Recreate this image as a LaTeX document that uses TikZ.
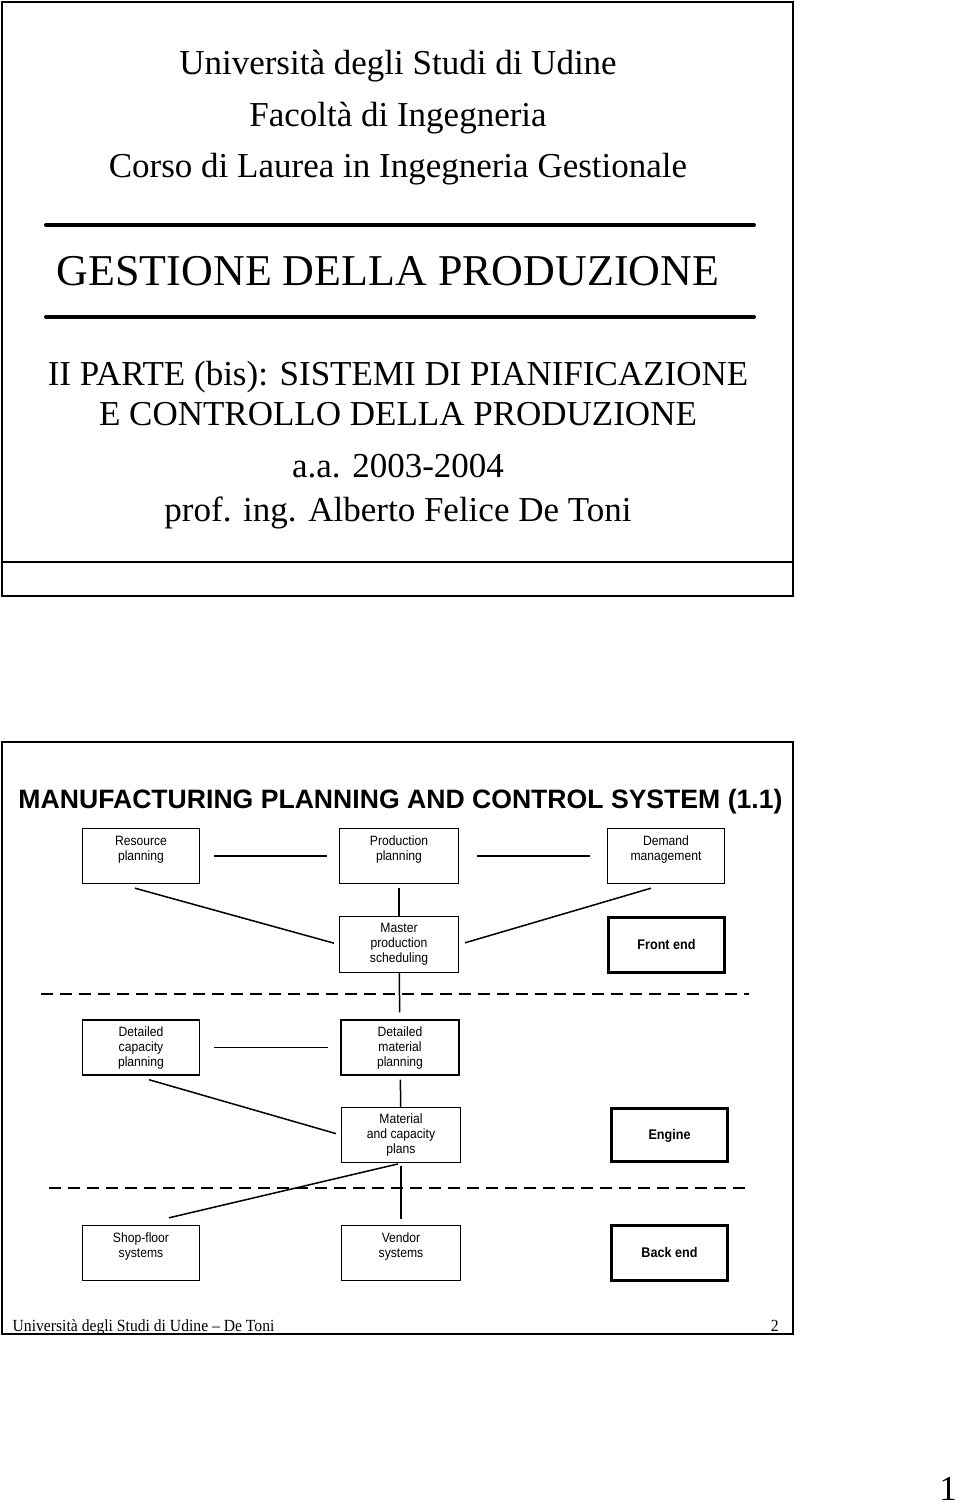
\documentclass[tikz,border=0pt]{standalone}
\usepackage{fontspec}
\setmainfont{Liberation Serif}
\newfontfamily\boxfont[FakeStretch=0.9]{Liberation Sans}
\newfontfamily\titlefont{Liberation Sans}
\newfontfamily\footfont[FakeStretch=0.92]{Liberation Serif}
\usetikzlibrary{positioning}
\tikzset{
  box/.style={draw, line width=1.4pt, minimum width=117pt, minimum height=55pt,
    align=center, inner sep=0pt, font=\boxfont\fontsize{13.5}{15}\selectfont},
  % the three boxes on the right are framed heavier
  endbox/.style={box, line width=3pt, minimum width=116pt,
    font=\boxfont\bfseries\fontsize{14}{15}\selectfont, text height=9.7pt, text depth=0pt},
  link/.style={line width=1.5pt},
  divider/.style={line width=1.8pt, dash pattern=on 12pt off 7pt},
  hrule/.style={line width=4pt, line cap=round},
  frame/.style={line width=1.5pt},
  heading/.style={anchor=base, font=\fontsize{35}{40}\selectfont},
}
\begin{document}
\begin{tikzpicture}[x=1pt, y=-1pt]
  \useasboundingbox (0,0) rectangle (960,1506);

  % first slide
  \draw[frame] (2,2) rectangle (793,596);
  \draw[frame] (2,562) -- (793,562);
  \node[heading] (uni) at (398,75) {Università degli Studi di Udine};
  \node[heading] (fac) at (398,127) {Facoltà di Ingegneria};
  \node[heading] (cdl) at (398,178) {Corso di Laurea in Ingegneria Gestionale};
  \draw[hrule] (46,225) -- (754,225);
  \node[heading, font=\fontsize{44}{48}\selectfont] (gest) at (388,285) {GESTIONE DELLA PRODUZIONE};
  \draw[hrule] (46,317) -- (754,317);
  \node[heading] (parte) at (398,385) {II PARTE (bis): SISTEMI DI PIANIFICAZIONE};
  \node[heading] (contr) at (398,425) {E CONTROLLO DELLA PRODUZIONE};
  \node[heading] (aa) at (398,477) {a.a. 2003-2004};
  \node[heading] (prof) at (398,521) {prof. ing. Alberto Felice De Toni};

  % second slide
  \draw[frame] (2,742) rectangle (793,1334);
  \node[anchor=base, font=\titlefont\bfseries\fontsize{26.6}{30}\selectfont] (title) at (400.5,808)
    {MANUFACTURING PLANNING AND CONTROL SYSTEM (1.1)};

  \node[box] (res) at (141,856) {Resource\\planning\\~};
  \node[box, minimum width=119pt] (prod) at (399,856) {Production\\planning\\~};
  \node[box] (dem) at (666,856) {Demand\\management\\~};
  \node[box, minimum width=119pt, minimum height=56pt] (mps) at (399,944.5) {Master\\production\\scheduling};
  \node[endbox, minimum height=55pt] (front) at (666.5,944.5) {Front end};

  \draw[divider] (41,994) -- (749,994);

  \node[box] (dcp) at (141,1047.5) {Detailed\\capacity\\planning};
  \node[box, minimum width=118pt] (dmp) at (400,1047.5) {Detailed\\material\\planning};
  \node[box, minimum width=119pt] (mcp) at (401,1135) {Material\\and capacity\\plans};
  \node[endbox, minimum height=53pt] (engine) at (669.5,1135) {Engine};

  \draw[divider] (49,1188) -- (748,1188);

  \node[box] (shop) at (141,1253) {Shop-floor\\systems\\~};
  \node[box, minimum width=119pt] (ven) at (401,1253) {Vendor\\systems\\~};
  \node[endbox, minimum height=55pt] (back) at (669.5,1253) {Back end};

  % connectors
  \draw[link, shorten <=14pt, shorten >=12pt] (res) -- (prod);
  \draw[link, shorten <=18pt, shorten >=17pt] (prod) -- (dem);
  \draw[link, shorten >=5pt] ([xshift=-6pt, yshift=-4pt]res.south) -- (mps.west);
  \draw[link, shorten <=4pt] (prod) -- (mps);
  \draw[link, shorten >=6pt] ([xshift=-15pt, yshift=-4pt]dem.south) -- (mps.east);
  \draw[link, shorten >=7pt] (mps) -- (dmp);
  \draw[link, shorten <=14pt, shorten >=12pt] (dcp) -- (dmp);
  \draw[link, shorten >=5pt] ([xshift=8pt, yshift=-4pt]dcp.south) -- (mcp.west);
  \draw[link, shorten <=4pt] (dmp) -- (mcp);
  \draw[link, shorten <=3pt] (mcp.south) -- ([xshift=28pt, yshift=7pt]shop.north);
  \draw[link, shorten <=3pt, shorten >=6pt] (mcp) -- (ven);

  % footer
  \node[anchor=base west, font=\footfont\fontsize{17}{18}\selectfont, inner sep=0pt] (foot) at (12.5,1331)
    {Università degli Studi di Udine – De Toni};
  \node[anchor=base east, font=\footfont\fontsize{17}{18}\selectfont, inner sep=0pt] (pnum) at (779,1331) {2};
  \node[anchor=base east, font=\fontsize{35}{40}\selectfont, inner sep=0pt] (page) at (957,1500) {1};
\end{tikzpicture}
\end{document}
